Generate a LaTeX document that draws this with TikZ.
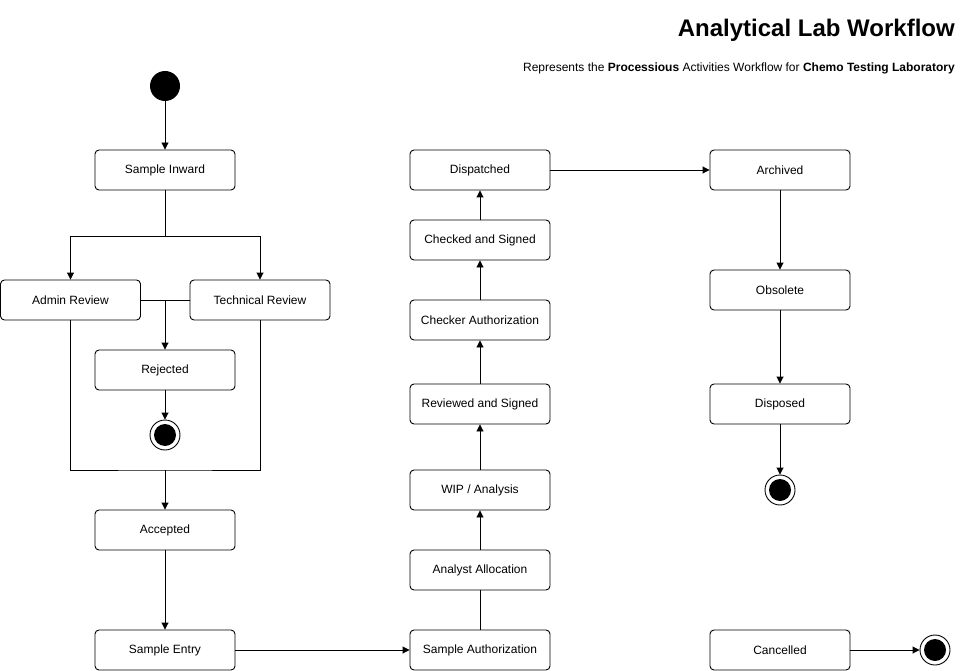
\documentclass[tikz,border=0pt]{standalone}
\usepackage{fontspec}
\setmainfont{Liberation Sans}
\usetikzlibrary{arrows.meta}
\begin{document}
\begin{tikzpicture}[x=1pt,y=-1pt,
  state/.style={draw, rounded corners=4pt, minimum width=140pt, minimum height=40pt, inner sep=0pt, font=\fontsize{12}{14}\selectfont, line width=0.9pt},
  startst/.style={circle, fill=black, minimum size=30pt, inner sep=0pt},
  endst/.style={circle, draw, line width=0.9pt, fill=white, minimum size=30pt, inner sep=0pt, path picture={\fill[black] (path picture bounding box.center) circle (11pt);}},
  flow/.style={line width=0.9pt, -{Triangle[length=7pt,width=7pt]}},
  plain/.style={line width=0.9pt}]
\useasboundingbox (0,0) rectangle (961,671);
% title
\node[anchor=east, inner sep=0pt, font=\fontsize{24}{28}\selectfont\bfseries] (title) at (955,30) {Analytical Lab Workflow};
\node[anchor=east, inner sep=0pt, font=\fontsize{12}{14}\selectfont] (sub) at (955,68) {Represents the \textbf{Processious} Activities Workflow for \textbf{Chemo Testing Laboratory}};
% nodes
\node[startst] (start) at (165,86) {};
\node[state] (inward) at (165,170) {Sample Inward};
\node[state] (admin) at (70.5,300) {Admin Review};
\node[state] (tech) at (260,300) {Technical Review};
\node[state] (rej) at (165,370) {Rejected};
\node[endst] (end1) at (165,435) {};
\node[state] (acc) at (165,530) {Accepted};
\node[state] (entry) at (165,650) {Sample Entry};
\node[state] (auth) at (480,650) {Sample Authorization};
\node[state] (alloc) at (480,570) {Analyst Allocation};
\node[state] (wip) at (480,490) {WIP / Analysis};
\node[state] (rev) at (480,404) {Reviewed and Signed};
\node[state] (chk) at (480,320) {Checker Authorization};
\node[state] (cs) at (480,240) {Checked and Signed};
\node[state] (disp) at (480,170) {Dispatched};
\node[state] (arch) at (780,170) {Archived};
\node[state] (obs) at (780,290) {Obsolete};
\node[state] (dispo) at (780,404) {Disposed};
\node[endst] (end2) at (780,490) {};
\node[state] (canc) at (780,650) {Cancelled};
\node[endst] (end3) at (935,650) {};
% junction coordinates
\coordinate (fork) at (165,236);
\coordinate (rjoin) at (165,300);
\coordinate (ajoin) at (165,470);
% connectors
\draw[flow] (start) -- (inward);
\draw[plain] (inward.south) -- (fork);
\draw[flow] (fork) -| (admin.north);
\draw[flow] (fork) -| (tech.north);
\draw[plain] (admin.east) -- (tech.west);
\draw[flow] (rjoin) -- (rej.north);
\draw[flow] (rej) -- (end1);
\draw[plain] (admin.south) |- (ajoin) -| (tech.south);
\draw[flow] (ajoin) -- (acc.north);
\draw[flow] (acc) -- (entry);
\draw[flow] (entry) -- (auth);
\draw[plain] (auth) -- (alloc);
\draw[flow] (alloc) -- (wip);
\draw[flow] (wip) -- (rev);
\draw[flow] (rev) -- (chk);
\draw[flow] (chk) -- (cs);
\draw[flow] (cs) -- (disp);
\draw[flow] (disp) -- (arch);
\draw[flow] (arch) -- (obs);
\draw[flow] (obs) -- (dispo);
\draw[flow] (dispo) -- (end2);
\draw[flow] (canc) -- (end3);
\end{tikzpicture}
\end{document}
